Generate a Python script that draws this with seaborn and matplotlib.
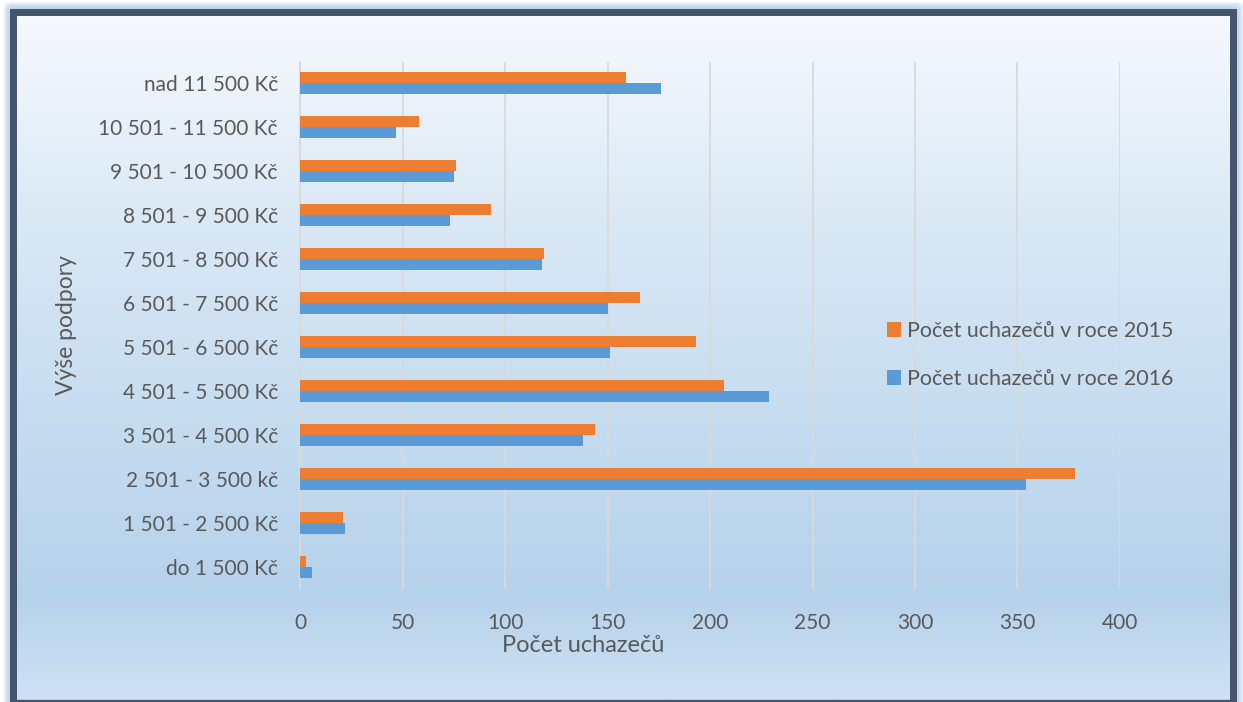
import numpy as np
import pandas as pd
import matplotlib
matplotlib.use("Agg")
import matplotlib.pyplot as plt
import seaborn as sns
from matplotlib.patches import Rectangle, FancyBboxPatch

# --- data ---
categories = [
    "nad 11 500 Kč",
    "10 501 - 11 500 Kč",
    "9 501 - 10 500 Kč",
    "8 501 - 9 500 Kč",
    "7 501 - 8 500 Kč",
    "6 501 - 7 500 Kč",
    "5 501 - 6 500 Kč",
    "4 501 - 5 500 Kč",
    "3 501 - 4 500 Kč",
    "2 501 - 3 500 kč",
    "1 501 - 2 500 Kč",
    "do 1 500 Kč",
]
counts_2015 = [159, 58, 76, 93, 119, 166, 193, 207, 144, 378, 21, 3]
counts_2016 = [176, 47, 75, 73, 118, 150, 151, 229, 138, 354, 22, 6]
series_names = ["Počet uchazečů v roce 2015", "Počet uchazečů v roce 2016"]
x_ticks = [0, 50, 100, 150, 200, 250, 300, 350, 400]

ORANGE = "#ED7D31"
BLUE = "#5B9BD5"
TEXT = "#595959"
GRID = "#D9D9D9"
BORDER = "#44546A"

W, H = 1243, 702


def build_frame():
    df = pd.DataFrame({
        "kategorie": categories * 2,
        "pocet": counts_2015 + counts_2016,
        "rok": [series_names[0]] * len(categories) + [series_names[1]] * len(categories),
    })
    return df


def draw_background(fig):
    # pixel-coordinate axes for the gradient panel and its frame
    bg = fig.add_axes([0, 0, 1, 1], zorder=-5)
    bg.set_xlim(0, W)
    bg.set_ylim(H, 0)
    bg.axis("off")

    # soft blue glow around the frame
    for i in range(10, 0, -1):
        glow = FancyBboxPatch((13.5 - i, 12 - i), 1220 + 2 * i, 700 + 2 * i,
                              boxstyle="round,pad=0,rounding_size=6",
                              facecolor="#9DC3E6", edgecolor="none", alpha=0.15)
        bg.add_patch(glow)

    # vertical gradient, light at the top, darker blue low, lighter at the very bottom
    stops = np.array([0.0, 0.35, 0.85, 1.0])
    cols = np.array([
        [246, 249, 253],
        [214, 230, 244],
        [181, 210, 235],
        [207, 226, 243],
    ]) / 255.0
    t = np.linspace(0, 1, 400)
    grad = np.stack([np.interp(t, stops, cols[:, k]) for k in range(3)], axis=-1)
    bg.imshow(grad[:, None, :], extent=[17, 1230, 699, 15], aspect="auto", zorder=1)

    # dark frame
    bg.add_patch(Rectangle((13.5, 12), 1220, 691, fill=False, edgecolor=BORDER,
                           linewidth=5.0, zorder=2))


def plot_chart():
    sns.set_theme(style="white")
    plt.rcParams["font.family"] = ["Lato", "DejaVu Sans"]

    fig = plt.figure(figsize=(W / 100, H / 100), dpi=100)
    fig.patch.set_facecolor("white")
    draw_background(fig)

    left, right, top, bottom = 300, 1120, 61.5, 589
    ax = fig.add_axes([left / W, 1 - bottom / H, (right - left) / W, (bottom - top) / H])
    ax.set_facecolor("none")

    df = build_frame()
    sns.barplot(data=df, x="pocet", y="kategorie", hue="rok", orient="h",
                palette=[ORANGE, BLUE], saturation=1, width=0.5, ax=ax,
                order=categories, hue_order=series_names, edgecolor="none", zorder=3)

    ax.set_xlim(0, 400)
    ax.set_ylim(len(categories) - 0.5, -0.5)
    ax.set_xticks(x_ticks)
    ax.set_xticklabels([str(v) for v in x_ticks])
    ax.grid(axis="x", color=GRID, linewidth=1.3, zorder=0)
    ax.set_axisbelow(True)
    for side in ["top", "right", "bottom"]:
        ax.spines[side].set_visible(False)
    ax.spines["left"].set_color(GRID)
    ax.spines["left"].set_linewidth(1.3)

    ax.tick_params(axis="y", length=0, pad=16, labelsize=15, labelcolor=TEXT)
    ax.tick_params(axis="x", length=0, pad=17, labelsize=15, labelcolor=TEXT)

    ax.set_xlabel("Počet uchazečů", fontsize=17, color=TEXT)
    ax.xaxis.set_label_coords((583 - left) / (right - left), -(635 - bottom) / (bottom - top))
    ax.set_ylabel("Výše podpory", fontsize=16.5, color=TEXT)
    ax.yaxis.set_label_coords(-(left - 77) / (right - left), 0.5)

    leg = ax.legend(loc="center left", bbox_to_anchor=(887 / W, 1 - 355 / H),
                    bbox_transform=fig.transFigure, frameon=False, fontsize=15.4,
                    borderpad=0, borderaxespad=0,
                    handlelength=0.65, handleheight=0.65, handletextpad=0.3,
                    labelspacing=1.3)
    for txt in leg.get_texts():
        txt.set_color(TEXT)

    fig.savefig("out.png", dpi=100)
    plt.close(fig)


if __name__ == "__main__":
    plot_chart()
